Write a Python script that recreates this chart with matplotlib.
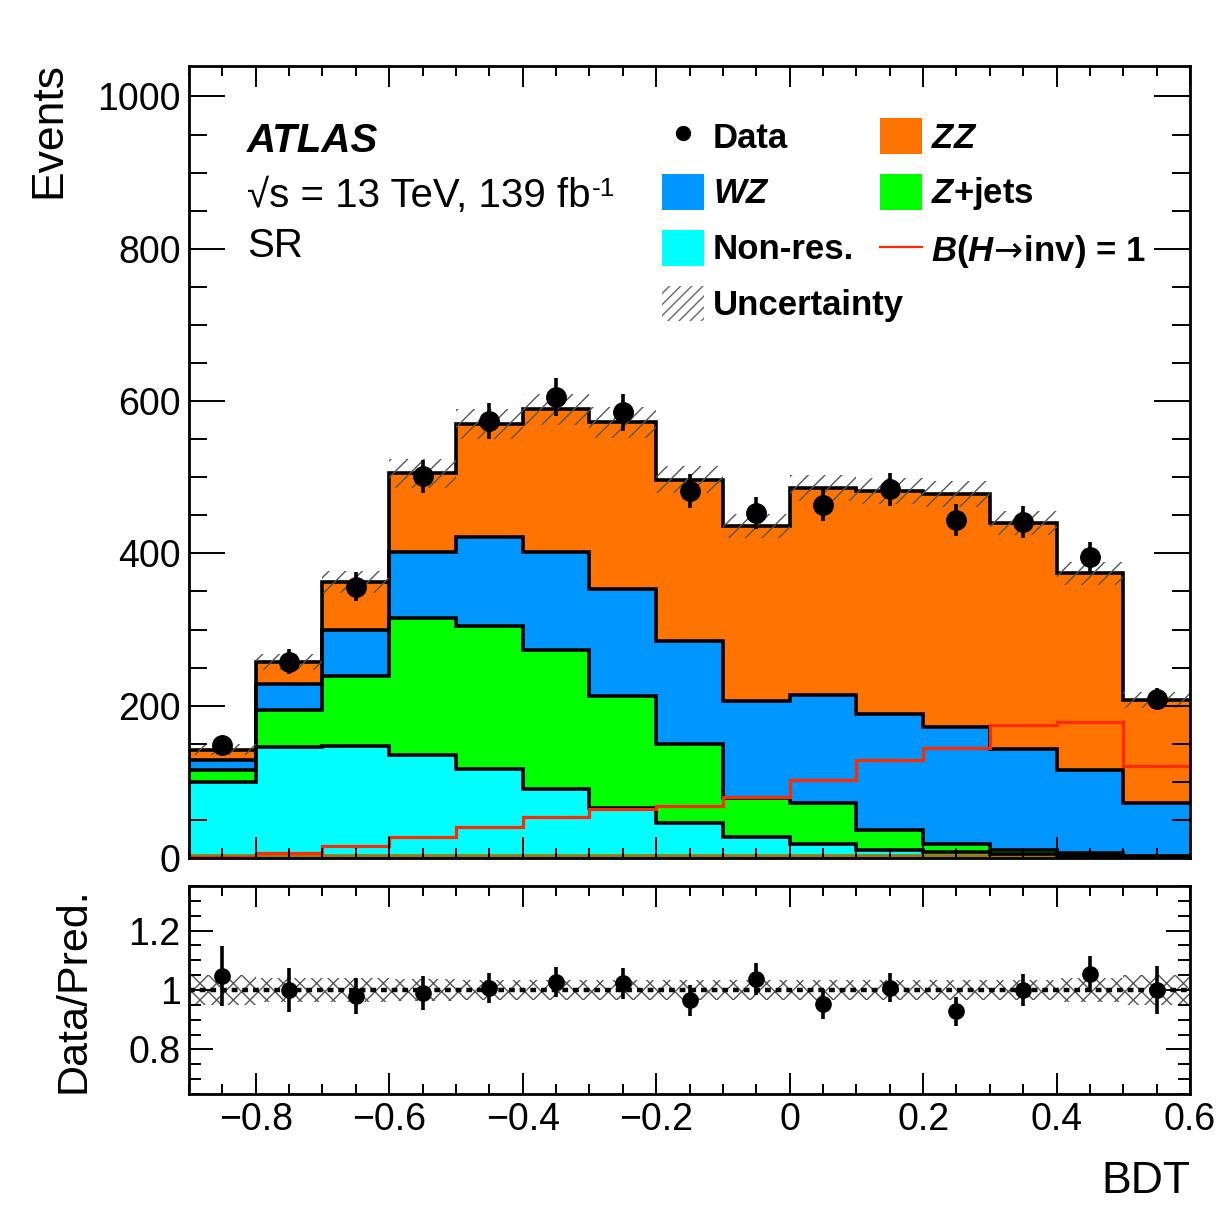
import numpy as np
import matplotlib
matplotlib.use("Agg")
import matplotlib.pyplot as plt
from matplotlib.patches import Patch
from matplotlib.lines import Line2D
from matplotlib.ticker import MultipleLocator, FuncFormatter

plt.rcParams["font.family"] = ["Liberation Sans", "DejaVu Sans"]
plt.rcParams["mathtext.fontset"] = "custom"
plt.rcParams["mathtext.it"] = "Liberation Sans:italic:bold"
plt.rcParams["mathtext.rm"] = "Liberation Sans:bold"
plt.rcParams["mathtext.bf"] = "Liberation Sans:bold"
plt.rcParams["mathtext.sf"] = "DejaVu Sans"
plt.rcParams["hatch.linewidth"] = 1.0

# BDT binning
bin_edges = [-0.9, -0.8, -0.7, -0.6, -0.5, -0.4, -0.3, -0.2, -0.1,
             0.0, 0.1, 0.2, 0.3, 0.4, 0.5, 0.6]

# background contributions (events per bin), stacked bottom -> top
other = [2, 2, 2, 2, 2, 2, 2, 2, 2, 2, 2, 2, 2, 2, 2]
nonres = [98, 144, 145, 133, 115, 88, 64, 44, 26, 17, 8, 6, 3, 1, 0]
zjets = [15, 48, 92, 180, 188, 183, 147, 104, 51, 53, 27, 10, 5, 4, 1]
wz = [14, 35, 61, 87, 117, 129, 140, 135, 127, 142, 152, 154, 133, 108, 69]
zz = [13, 28, 63, 103, 148, 187, 219, 212, 230, 272, 293, 306, 297, 259, 135]

# signal B(H->inv) = 1, not stacked
signal = [1, 7, 16, 28, 41, 54, 65, 68, 80, 102, 129, 145, 174, 178, 121]

# relative total uncertainty on the prediction
unc_rel = [0.05, 0.04, 0.04, 0.037, 0.035, 0.035, 0.035, 0.035, 0.035,
           0.035, 0.035, 0.035, 0.035, 0.04, 0.05]

# data
data = [148, 258, 356, 501, 574, 605, 585, 482, 453, 464, 484, 444, 441, 395, 209]
data_err = [12, 16, 19, 22, 24, 25, 24, 22, 21, 22, 22, 21, 21, 20, 14]

# ratio panel
ratio = [1.047, 1.0, 0.98, 0.99, 1.006, 1.026, 1.022, 0.966, 1.037, 0.953,
         1.008, 0.928, 1.0, 1.054, 1.0]
ratio_err = [0.10, 0.074, 0.062, 0.056, 0.05, 0.05, 0.051, 0.052, 0.054, 0.049,
             0.05, 0.049, 0.054, 0.061, 0.08]

colors = ["#a07a00", "#00ffff", "#00ff00", "#0096ff", "#ff7300"]
sig_color = "#ff2a00"

edges = np.array(bin_edges)
centers = 0.5 * (edges[:-1] + edges[1:])
stack = np.cumsum(np.vstack([other, nonres, zjets, wz, zz]), axis=0)
total = stack[-1]
unc = np.array(unc_rel)


def fmt(v, pos):
    s = f"{round(v, 6):g}"
    return s.replace("-", "\u2212")


fig = plt.figure(figsize=(12.19, 12.11), dpi=100)
W, H = 1219, 1211
ax1 = fig.add_axes([189 / W, 1 - 858 / H, 1001 / W, 792 / H])
ax2 = fig.add_axes([189 / W, 1 - 1094 / H, 1001 / W, 208 / H])

# stacked fills, largest first
for i in range(len(stack) - 1, -1, -1):
    ax1.stairs(stack[i], edges, baseline=0, fill=True, color=colors[i], lw=0)
# outlines
for i in range(len(stack)):
    c = colors[0] if i == 0 else "black"
    ax1.stairs(stack[i], edges, baseline=None, color=c, lw=2.6)

ax1.stairs(signal, edges, baseline=None, color=sig_color, lw=2.3)

ax1.stairs(total * (1 + unc), edges, baseline=total * (1 - unc), fill=True,
           facecolor="none", edgecolor="#555555", hatch="//", lw=0)

ax1.errorbar(centers, data, yerr=data_err, fmt="o", color="black", ms=14,
             elinewidth=2.6, capsize=0, zorder=10)

ax1.set_xlim(-0.9, 0.6)
ax1.set_ylim(0, 1040)
ax1.xaxis.set_major_locator(MultipleLocator(0.2))
ax1.xaxis.set_minor_locator(MultipleLocator(0.05))
ax1.yaxis.set_major_locator(MultipleLocator(200))
ax1.yaxis.set_minor_locator(MultipleLocator(50))
ax1.xaxis.set_major_formatter(FuncFormatter(fmt))
ax1.yaxis.set_major_formatter(FuncFormatter(fmt))
ax1.tick_params(which="both", direction="in", top=True, right=True,
                labelbottom=False, labelsize=27, width=1.4, pad=6)
ax1.tick_params(axis="x", which="major", length=15)
ax1.tick_params(axis="x", which="minor", length=7.5)
ax1.tick_params(axis="y", which="major", length=26)
ax1.tick_params(axis="y", which="minor", length=13)
ax1.set_ylabel("Events", fontsize=32, loc="top")
ax1.yaxis.set_label_coords(-0.12, 1.005)

# legend, two columns
h1 = [Line2D([], [], marker="o", ls="none", color="black", ms=10),
      Patch(facecolor=colors[3]),
      Patch(facecolor=colors[1]),
      Patch(facecolor="none", edgecolor="#666666", hatch="///", lw=0)]
l1 = ["Data", r"$WZ$", "Non-res.", "Uncertainty"]
h2 = [Patch(facecolor=colors[4]),
      Patch(facecolor=colors[2]),
      Line2D([], [], color=sig_color, lw=1.6)]
l2 = [r"$ZZ$", r"$Z$+jets", r"$B$($H\!\mathsf{\rightarrow}\!$inv) = 1"]
leg_kw = dict(frameon=False, prop={"weight": "bold", "size": 25}, handlelength=1.2,
              handleheight=1.2, handletextpad=0.27, labelspacing=0.56,
              borderpad=0, borderaxespad=0, loc="upper left",
              bbox_transform=fig.transFigure)
leg1 = ax1.legend(h1, l1, bbox_to_anchor=(662 / W, 1 - 118 / H), **leg_kw)
ax1.add_artist(leg1)
ax1.legend(h2, l2, bbox_to_anchor=(880 / W, 1 - 118 / H), **leg_kw)

fig.text(247 / W, 1 - 152 / H, "ATLAS", fontsize=29, weight="bold",
         style="italic", va="baseline")
t = fig.text(247 / W, 1 - 207 / H, "\u221as = 13 TeV, 139 fb", fontsize=29,
             va="baseline")
fig.text(247 / W, 1 - 257 / H, "SR", fontsize=29, va="baseline")
ax1.annotate("-1", xy=(1.0, 1.0), xycoords=t, ha="left", va="top",
             fontsize=19, xytext=(1, 0), textcoords="offset points")

# ratio panel
ax2.stairs(1 + unc, edges, baseline=1 - unc, fill=True, facecolor="none",
           edgecolor="#555555", hatch="xx", lw=0)
ax2.axhline(1, color="black", ls=(0, (1.3, 1.1)), lw=3.2)
ax2.errorbar(centers, ratio, yerr=ratio_err, fmt="o", color="black", ms=11,
             elinewidth=2.6, capsize=0, zorder=10)
ax2.set_xlim(-0.9, 0.6)
ax2.set_ylim(0.65, 1.35)
ax2.xaxis.set_major_locator(MultipleLocator(0.2))
ax2.xaxis.set_minor_locator(MultipleLocator(0.05))
ax2.yaxis.set_major_locator(MultipleLocator(0.2))
ax2.yaxis.set_minor_locator(MultipleLocator(0.05))
ax2.xaxis.set_major_formatter(FuncFormatter(fmt))
ax2.yaxis.set_major_formatter(FuncFormatter(fmt))
ax2.tick_params(which="both", direction="in", top=True, right=True,
                labelsize=27, width=1.4, pad=6)
ax2.tick_params(axis="x", which="major", length=15)
ax2.tick_params(axis="x", which="minor", length=7.5)
ax2.tick_params(axis="y", which="major", length=17)
ax2.tick_params(axis="y", which="minor", length=8.5)
ax2.set_ylabel("Data/Pred.", fontsize=31)
ax2.yaxis.set_label_coords(-0.095, 0.5)
ax2.set_xlabel("BDT", fontsize=32, loc="right")
ax2.xaxis.set_label_coords(1.0, -0.32)

for ax in (ax1, ax2):
    for sp in ax.spines.values():
        sp.set_linewidth(2.0)

fig.savefig("out.png", dpi=100)
